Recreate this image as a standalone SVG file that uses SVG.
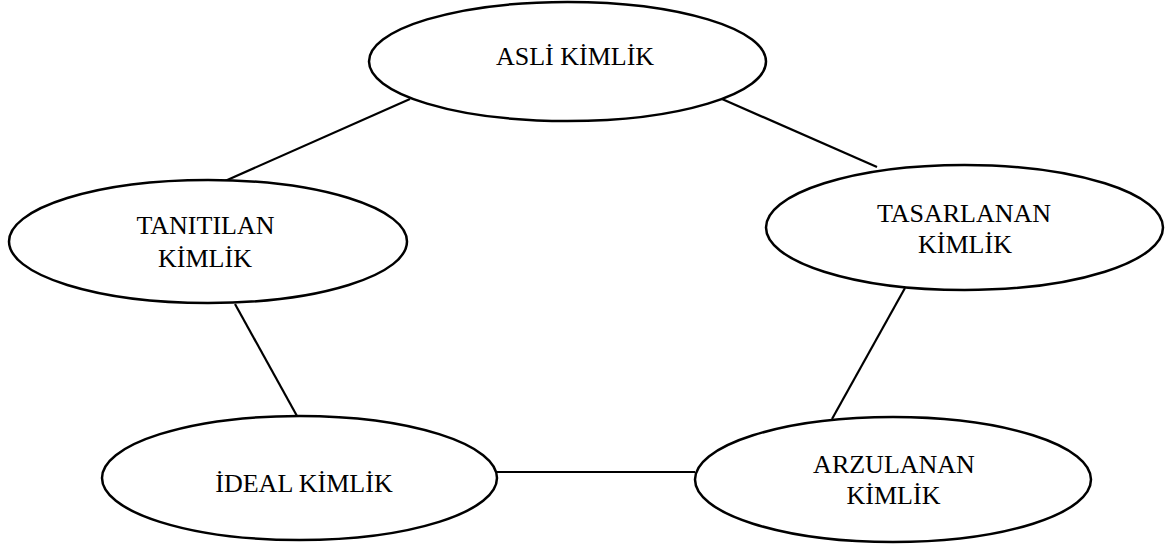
<svg xmlns="http://www.w3.org/2000/svg" width="1166" height="550" viewBox="0 0 1166 550">
<style>
.node ellipse{fill:#fff;stroke:#000;stroke-width:2.5}
.node text{font-family:"Liberation Serif","Times New Roman",serif;font-size:26px;fill:#000;text-anchor:middle}
#connectors line{stroke:#000;stroke-width:2.2}
</style>
<rect width="1166" height="550" fill="#fff"/>
<g id="connectors">
<line x1="410" y1="99" x2="225" y2="181"/>
<line x1="722" y1="99" x2="877" y2="167"/>
<line x1="235" y1="304" x2="297" y2="416"/>
<line x1="905" y1="288" x2="832" y2="419"/>
<line x1="497" y1="472" x2="695" y2="472"/>
</g>
<g id="asli" class="node">
<ellipse cx="567.5" cy="61.5" rx="198.5" ry="59.5"/>
<text x="575" y="65">ASLİ KİMLİK</text>
</g>
<g id="tanitilan" class="node">
<ellipse cx="208" cy="241.5" rx="199" ry="61.5"/>
<text x="205.5" y="234">TANITILAN</text>
<text x="205" y="267">KİMLİK</text>
</g>
<g id="tasarlanan" class="node">
<ellipse cx="964.5" cy="227.5" rx="198.5" ry="62.5"/>
<text x="964" y="222">TASARLANAN</text>
<text x="965" y="253">KİMLİK</text>
</g>
<g id="ideal" class="node">
<ellipse cx="299.5" cy="478" rx="197.5" ry="62"/>
<text x="304" y="492">İDEAL KİMLİK</text>
</g>
<g id="arzulanan" class="node">
<ellipse cx="893" cy="479.5" rx="198" ry="62.5"/>
<text x="894" y="473">ARZULANAN</text>
<text x="893.5" y="504">KİMLİK</text>
</g>
</svg>
